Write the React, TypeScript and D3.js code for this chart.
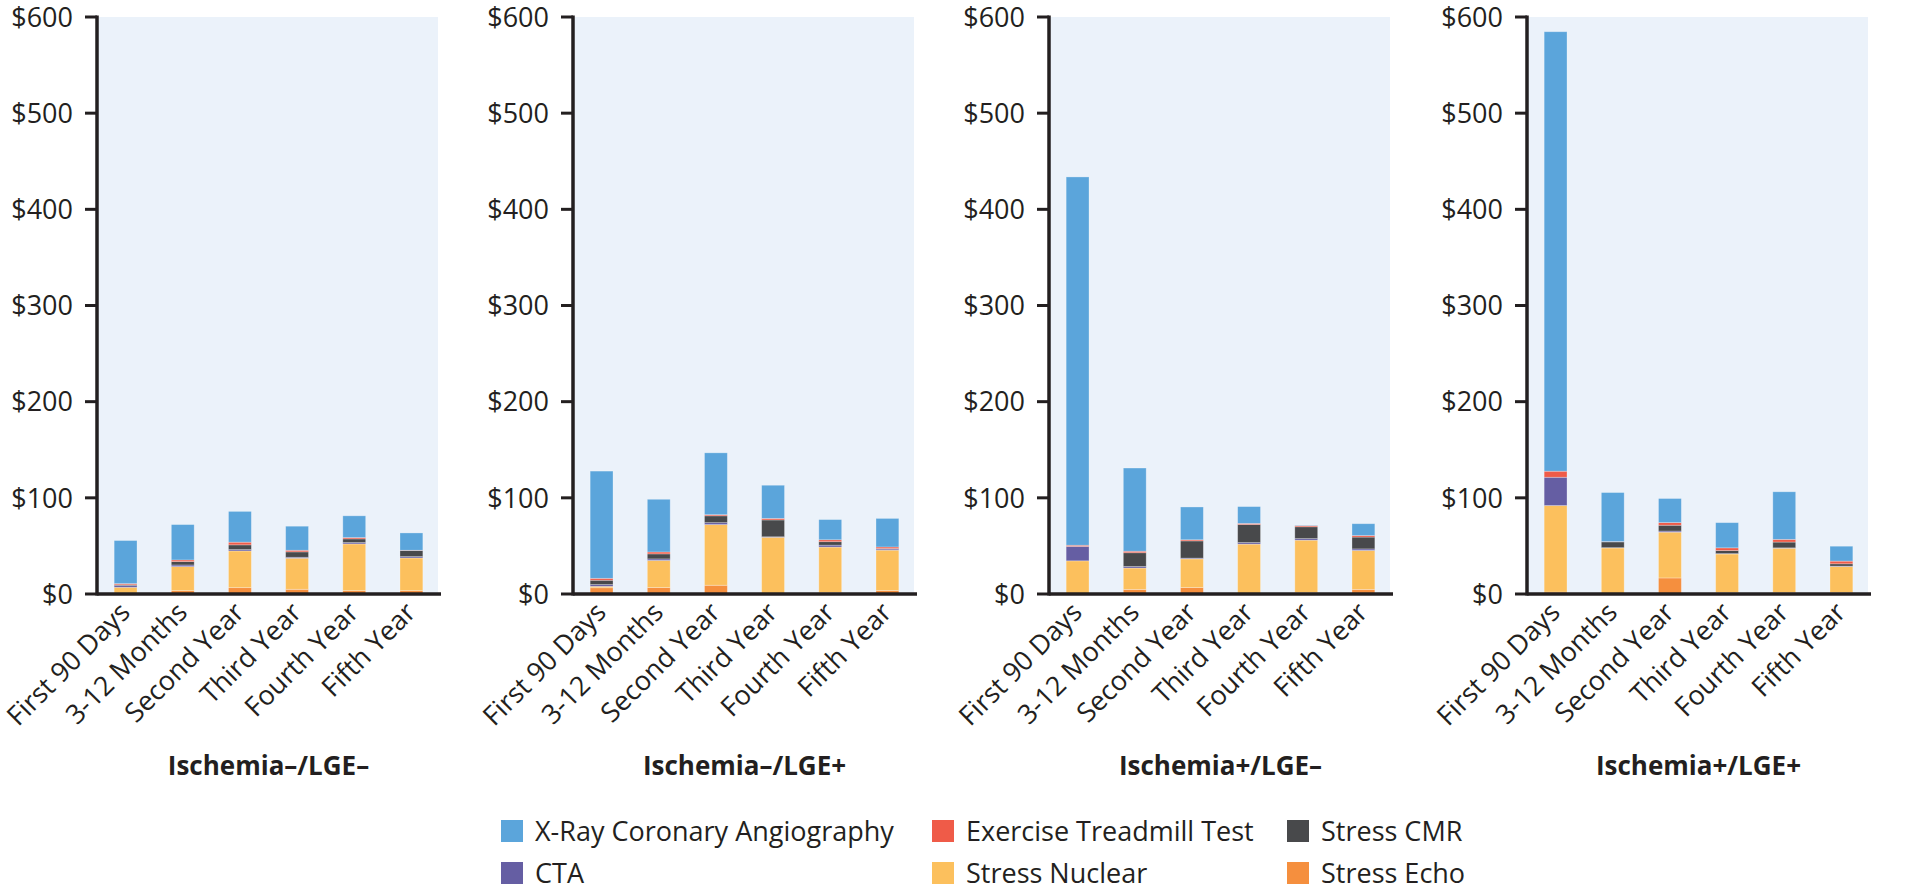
import React from 'react';
import * as d3 from 'd3';

// period labels on the x axis, the same in every panel
const categories = ['First 90 Days', '3-12 Months', 'Second Year', 'Third Year', 'Fourth Year', 'Fifth Year'];
const panelTitles = ['Ischemia–/LGE–', 'Ischemia–/LGE+', 'Ischemia+/LGE–', 'Ischemia+/LGE+'];
const yTicks = [0, 100, 200, 300, 400, 500, 600];

// cost per patient ($), one row per panel, one value per period
const stressEcho = [
  [1, 3.5, 6.6, 4.9, 3.5, 3.5],
  [6.5, 6.7, 9.1, 0.8, 1.6, 3.6],
  [0.3, 4.8, 6.7, 0.3, 1.6, 4.8],
  [2, 0.3, 16.7, 1.6, 1.6, 1.6],
];
const stressNuclear = [
  [6, 25, 38.2, 32.3, 48.6, 34],
  [1.5, 28.2, 63.1, 58.2, 47.2, 42],
  [34.2, 22.2, 29.8, 51.6, 54.4, 40.5],
  [90, 47.6, 47.6, 40, 46, 27],
];
const cta = [
  [1.8, 1.7, 1.4, 1, 1.4, 1.4],
  [1.8, 1.6, 2, 0.5, 2, 1.2],
  [15, 1.6, 0.8, 1.6, 1.6, 1.6],
  [29.4, 0.3, 1.2, 0.4, 0.4, 0.4],
];
const stressCmr = [
  [0.8, 3.5, 4.9, 5.6, 3.8, 6.3],
  [4.5, 5.2, 7.1, 17.5, 3.6, 0.5],
  [0, 14.3, 17.9, 18.7, 12.3, 12.3],
  [0, 6, 6, 3.2, 6, 2.4],
];
const treadmill = [
  [1.2, 1.7, 2.8, 1.7, 1.4, 0.3],
  [2, 2, 1.2, 1.6, 2, 1.6],
  [1.2, 1.6, 1.2, 1.2, 1.2, 1.6],
  [6.3, 0.3, 2.8, 2.8, 2.8, 2.8],
];
const xray = [
  [44.8, 36.8, 32, 25, 22.6, 18],
  [111.5, 54.8, 64.3, 34.5, 21, 29.7],
  [383, 86.5, 34.1, 17.5, 0.5, 12.3],
  [457, 51, 25, 26.2, 49.5, 15.5],
];

// stacking order, bottom to top
const series = [
  { key: 'echo', name: 'Stress Echo', color: '#f58f3e', values: stressEcho },
  { key: 'nuclear', name: 'Stress Nuclear', color: '#fcc05d', values: stressNuclear },
  { key: 'cta', name: 'CTA', color: '#655ea3', values: cta },
  { key: 'cmr', name: 'Stress CMR', color: '#48494b', values: stressCmr },
  { key: 'ett', name: 'Exercise Treadmill Test', color: '#ef5b48', values: treadmill },
  { key: 'xray', name: 'X-Ray Coronary Angiography', color: '#5ba5db', values: xray },
];

// legend reads row by row
const legendOrder = ['xray', 'ett', 'cmr', 'cta', 'nuclear', 'echo'];

const W = 1920;
const H = 888;
const font = '"Open Sans", "Noto Sans", sans-serif';
const ink = '#231f20';
const panelLeft = [97, 573, 1049, 1527];
const panelWidth = 343;
const yScale = d3.scaleLinear().domain([0, 600]).range([594, 17]);

function Panel({ idx }: { idx: number }) {
  const x0 = panelLeft[idx];
  const x = d3
    .scaleBand<string>()
    .domain(categories)
    .range([x0, x0 + panelWidth])
    .paddingInner(0.6)
    .paddingOuter(0.3);

  const rows = categories.map((c, i) => {
    const r: any = { cat: c };
    series.forEach(s => (r[s.key] = s.values[idx][i]));
    return r;
  });
  const stacked = d3.stack<any>().keys(series.map(s => s.key))(rows);
  const y0 = yScale(0);

  return (
    <g>
      <rect x={x0} y={yScale(600)} width={panelWidth - 2} height={y0 - yScale(600)} fill="#ebf2fa" />
      {stacked.map((layer, li) => (
        <g key={layer.key} fill={series[li].color}>
          {layer.map((d, i) => {
            const h = yScale(d[0]) - yScale(d[1]);
            if (h <= 0) return null;
            return (
              <rect
                key={i}
                x={x(categories[i])}
                y={yScale(d[1])}
                width={x.bandwidth()}
                height={h}
                stroke="#ffffff"
                strokeOpacity={0.35}
                strokeWidth={0.8}
              />
            );
          })}
        </g>
      ))}
      {/* axes */}
      <line x1={x0} x2={x0} y1={yScale(600) - 1.5} y2={y0 + 1.5} stroke={ink} strokeWidth={3.5} />
      <line x1={x0} x2={x0 + panelWidth + 1} y1={y0} y2={y0} stroke={ink} strokeWidth={3.5} />
      {yTicks.map(t => (
        <g key={t}>
          <line x1={x0 - 12} x2={x0} y1={yScale(t)} y2={yScale(t)} stroke={ink} strokeWidth={3} />
          <text
            x={x0 - 24}
            y={yScale(t)}
            dy="0.36em"
            textAnchor="end"
            fontSize={27}
            fill={ink}
            fontFamily={font}
          >
            {`$${t}`}
          </text>
        </g>
      ))}
      {categories.map(c => {
        const cx = (x(c) as number) + x.bandwidth() / 2;
        return (
          <text
            key={c}
            transform={`translate(${cx + 6}, ${y0 + 20}) rotate(-45)`}
            textAnchor="end"
            fontSize={27}
            fill={ink}
            fontFamily={font}
          >
            {c}
          </text>
        );
      })}
      <text
        x={x0 + panelWidth / 2}
        y={775}
        textAnchor="middle"
        fontSize={26}
        fontWeight="bold"
        fill={ink}
        fontFamily={font}
      >
        {panelTitles[idx]}
      </text>
    </g>
  );
}

function Legend() {
  const colX = [501, 932, 1287];
  const rowY = [820, 862];
  const size = 22;
  return (
    <g>
      {legendOrder.map((k, i) => {
        const s = series.find(d => d.key === k)!;
        const sx = colX[i % 3];
        const sy = rowY[Math.floor(i / 3)];
        return (
          <g key={k}>
            <rect x={sx} y={sy} width={size} height={size} fill={s.color} />
            <text
              x={sx + 34}
              y={sy + size / 2}
              dy="0.36em"
              fontSize={27}
              fill={ink}
              fontFamily={font}
            >
              {s.name}
            </text>
          </g>
        );
      })}
    </g>
  );
}

export default function App() {
  return (
    <div style={{ position: 'absolute', left: 0, top: 0 }}>
      <svg width={W} height={H} style={{ display: 'block', background: '#ffffff' }}>
        {panelTitles.map((_, i) => (
          <Panel key={i} idx={i} />
        ))}
        <Legend />
      </svg>
    </div>
  );
}
